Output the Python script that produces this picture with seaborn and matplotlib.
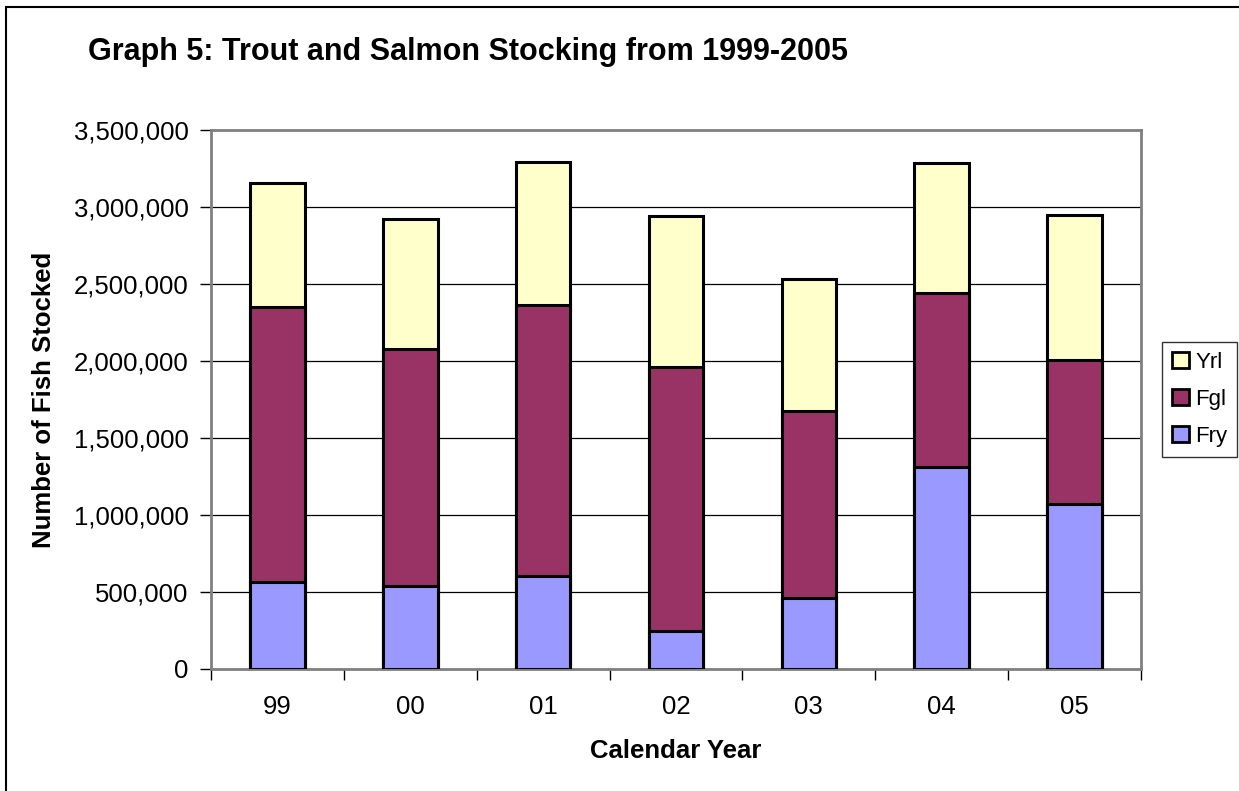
import pandas as pd
import matplotlib.pyplot as plt
import seaborn as sns
from matplotlib.patches import Rectangle, Patch
from matplotlib.ticker import FuncFormatter, FixedLocator

years = ["99", "00", "01", "02", "03", "04", "05"]
fry = [567000, 539000, 606000, 248000, 460000, 1312000, 1071000]
fgl = [1785000, 1539000, 1760000, 1714000, 1217000, 1131000, 935000]
yrl = [806000, 846000, 927000, 980000, 857000, 843000, 941000]

colors = {"Yrl": "#FFFFCC", "Fgl": "#993366", "Fry": "#9999FF"}

sns.set_theme(style="white")
plt.rcParams["font.family"] = ["Liberation Sans", "DejaVu Sans"]
plt.rcParams.update({"text.color": "black", "axes.labelcolor": "black",
                     "xtick.color": "black", "ytick.color": "black"})

df = pd.DataFrame({"Year": years, "Fry": fry, "Fgl": fgl, "Yrl": yrl})
df["Fgl_cum"] = df["Fry"] + df["Fgl"]
df["Yrl_cum"] = df["Fgl_cum"] + df["Yrl"]

fig = plt.figure(figsize=(12.39, 7.91), dpi=100)
ax = fig.add_axes([211 / 1239, 122 / 791, 930 / 1239, 539 / 791])

# draw tallest first so each layer sits on top of the one before
for col, name in [("Yrl_cum", "Yrl"), ("Fgl_cum", "Fgl"), ("Fry", "Fry")]:
    sns.barplot(data=df, x="Year", y=col, color=colors[name], width=0.41,
                edgecolor="black", linewidth=2.2, saturation=1, ax=ax, zorder=3)

ax.set_ylim(0, 3500000)
ax.set_xlim(-0.5, 6.5)
ax.yaxis.set_major_locator(FixedLocator(range(0, 3500001, 500000)))
ax.yaxis.set_major_formatter(FuncFormatter(lambda v, p: f"{int(v):,}"))
ax.yaxis.grid(True, color="black", linewidth=0.9, zorder=0)
ax.set_axisbelow(True)

ax.set_xticks([i + 0.5 for i in range(-1, 7)], minor=False)
ax.set_xticklabels([])
ax.set_xticks(range(7), minor=True)
ax.set_xticklabels(years, minor=True)
ax.tick_params(axis="x", which="major", direction="out", length=8, width=1, color="black", bottom=True)
ax.tick_params(axis="x", which="minor", length=0, labelsize=18.5, pad=19)
ax.tick_params(axis="y", direction="out", length=8, width=1, color="black", left=True, labelsize=18.5, pad=8)

for side in ["top", "right", "left", "bottom"]:
    ax.spines[side].set_color("#808080")
    ax.spines[side].set_linewidth(2)

ax.set_xlabel("Calendar Year", fontsize=18.5, fontweight="bold", labelpad=14)
ax.set_ylabel("Number of Fish Stocked", fontsize=18.5, fontweight="bold", labelpad=13)

fig.text(88 / 1239, 1 - 52 / 791, "Graph 5: Trout and Salmon Stocking from 1999-2005",
         fontsize=22, fontweight="bold", va="center", ha="left")

handles = [Patch(facecolor=colors[n], edgecolor="black", linewidth=2, label=n)
           for n in ["Yrl", "Fgl", "Fry"]]
leg = fig.legend(handles=handles, loc="upper left", bbox_to_anchor=(1162 / 1239, 1 - 342 / 791),
                 frameon=True, fancybox=False, fontsize=16, handlelength=0.75, handleheight=0.75,
                 handletextpad=0.3, borderpad=0.45, labelspacing=0.72, borderaxespad=0)
leg.get_frame().set_edgecolor("black")
leg.get_frame().set_linewidth(1)

fig.patches.append(Rectangle((6 / 1239, -0.05), 1.1, 1.05 - 7 / 791, transform=fig.transFigure,
                             fill=False, edgecolor="black", linewidth=1.5))

fig.savefig("out.png", dpi=100)
